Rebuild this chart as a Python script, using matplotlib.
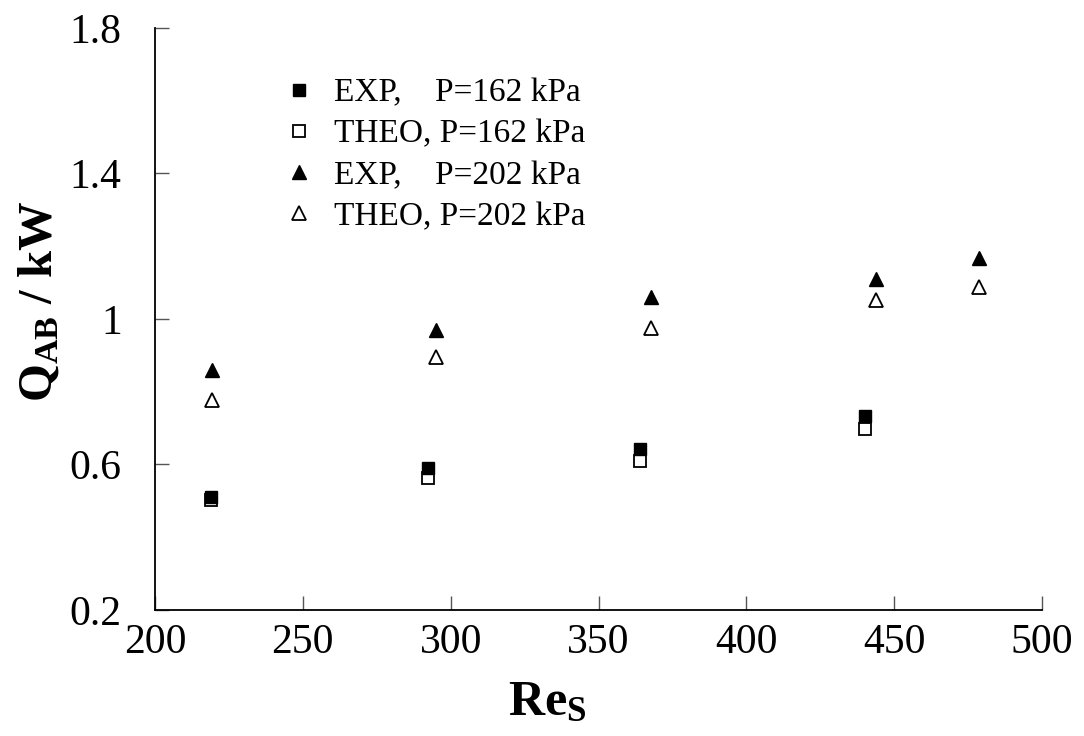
import matplotlib
matplotlib.use("Agg")
import matplotlib.pyplot as plt

# Values
re_162 = [218.9, 292.3, 364.0, 440.1]
exp_162 = [0.511, 0.590, 0.643, 0.733]
theo_162 = [0.502, 0.563, 0.610, 0.698]

re_202 = [219.3, 295.0, 367.7, 443.8, 478.7]
exp_202 = [0.860, 0.970, 1.060, 1.110, 1.168]
theo_202 = [0.777, 0.896, 0.975, 1.052, 1.088]

x_ticks = [200, 250, 300, 350, 400, 450, 500]
y_ticks = [0.2, 0.6, 1.0, 1.4, 1.8]
y_tick_labels = ['0.2', '0.6', '1', '1.4', '1.8']

plt.rcParams['font.family'] = ['Liberation Serif', 'DejaVu Serif']
plt.rcParams['mathtext.fontset'] = 'custom'
plt.rcParams['mathtext.rm'] = 'Liberation Serif'
plt.rcParams['mathtext.bf'] = 'Liberation Serif:bold'
plt.rcParams['mathtext.default'] = 'bf'

fig = plt.figure(figsize=(10.84, 7.36), dpi=100)
ax = fig.add_axes([0.143, 0.1712, 0.8183, 0.7908])

# experimental (filled) markers sit on top of the theoretical (open) ones
ax.plot(re_162, exp_162, linestyle='none', marker='s', markersize=9,
        color='black', label='EXP,    P=162 kPa', zorder=4)
ax.plot(re_162, theo_162, linestyle='none', marker='s', markersize=9,
        markerfacecolor='white', markeredgecolor='black', markeredgewidth=1.3,
        label='THEO, P=162 kPa', zorder=3)
ax.plot(re_202, exp_202, linestyle='none', marker='^', markersize=10,
        color='black', label='EXP,    P=202 kPa', zorder=4)
ax.plot(re_202, theo_202, linestyle='none', marker='^', markersize=10,
        markerfacecolor='white', markeredgecolor='black', markeredgewidth=1.3,
        label='THEO, P=202 kPa', zorder=3)

ax.set_xlim(200, 500)
ax.set_ylim(0.2, 1.8)
ax.set_xticks(x_ticks)
ax.set_yticks(y_ticks)
ax.set_yticklabels(y_tick_labels)

for side in ['top', 'right']:
    ax.spines[side].set_visible(False)
for side in ['left', 'bottom']:
    ax.spines[side].set_linewidth(1.3)

ax.tick_params(axis='both', direction='in', length=10, width=1.0,
               color='#555555', labelsize=30)
ax.tick_params(axis='x', pad=10)
ax.tick_params(axis='y', pad=24)

ax.set_xlabel('Re$_{S}$', fontsize=36, fontweight='bold')
ax.set_ylabel('Q$_{AB}$ / kW', fontsize=35, fontweight='bold')
ax.xaxis.set_label_coords(0.442, -0.12)
ax.yaxis.set_label_coords(-0.105, 0.53)

ax.legend(loc='upper left', bbox_to_anchor=(0.128, 0.937), frameon=False,
          fontsize=24, handlelength=1.0, handletextpad=0.55,
          labelspacing=0.32, borderaxespad=0)

fig.savefig('out.png', dpi=100)
